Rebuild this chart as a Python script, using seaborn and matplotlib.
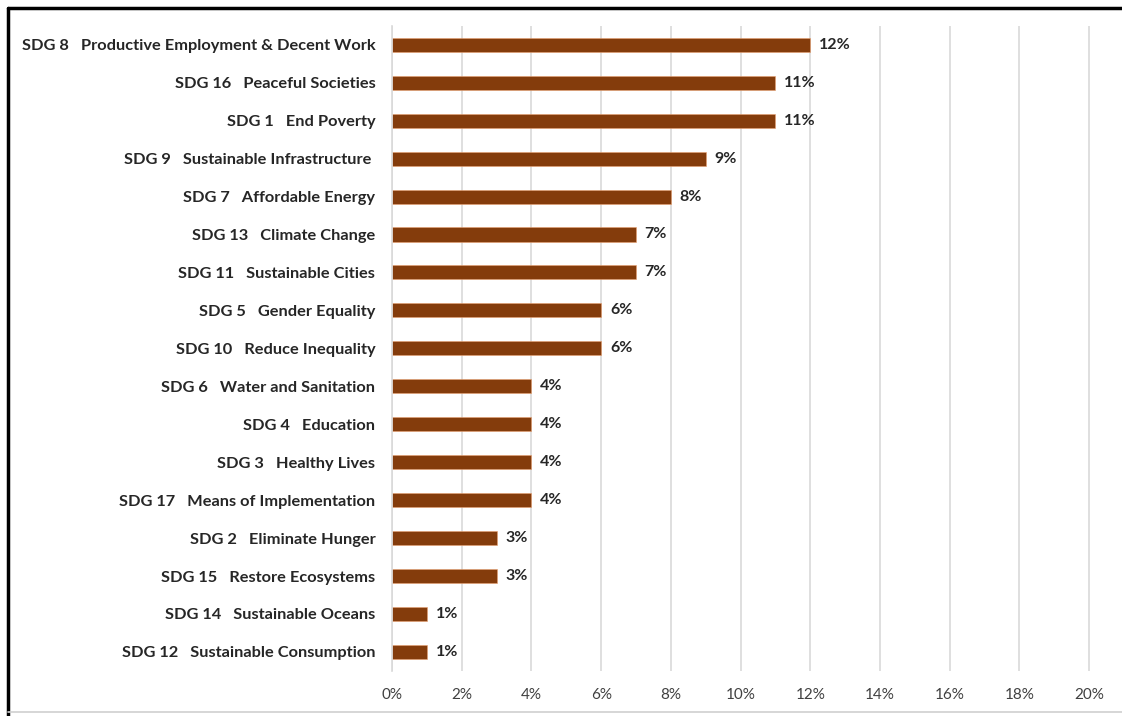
import pandas as pd
import matplotlib
matplotlib.use("Agg")
import matplotlib.pyplot as plt
from matplotlib.lines import Line2D
from matplotlib.ticker import FuncFormatter
import seaborn as sns

# Data (share of total, in %)
goals = [
    "SDG 8   Productive Employment & Decent Work",
    "SDG 16   Peaceful Societies",
    "SDG 1   End Poverty",
    "SDG 9   Sustainable Infrastructure ",
    "SDG 7   Affordable Energy",
    "SDG 13   Climate Change",
    "SDG 11   Sustainable Cities",
    "SDG 5   Gender Equality",
    "SDG 10   Reduce Inequality",
    "SDG 6   Water and Sanitation",
    "SDG 4   Education",
    "SDG 3   Healthy Lives",
    "SDG 17   Means of Implementation",
    "SDG 2   Eliminate Hunger",
    "SDG 15   Restore Ecosystems",
    "SDG 14   Sustainable Oceans",
    "SDG 12   Sustainable Consumption",
]
shares = [12, 11, 11, 9, 8, 7, 7, 6, 6, 4, 4, 4, 4, 3, 3, 1, 1]
x_ticks = [0, 2, 4, 6, 8, 10, 12, 14, 16, 18, 20]

df = pd.DataFrame({"goal": goals, "share": shares})

sns.set_style("white")
plt.rcParams["font.family"] = ["Lato", "DejaVu Sans"]

fig = plt.figure(figsize=(11.22, 7.16), dpi=100)
ax = fig.add_axes([0.3494, 0.063, 0.6229, 0.901])

sns.barplot(data=df, x="share", y="goal", color="#843C0C", width=0.37,
            edgecolor="#E8A070", linewidth=0.4, saturation=1, ax=ax, orient="h")

# value labels
for i, v in enumerate(shares):
    ax.text(v + 0.25, i, f"{v}%", va="center", ha="left",
            fontsize=11.5, fontweight="bold", color="#262626")

ax.set_xlim(0, 20.05)
ax.set_xticks(x_ticks)
ax.xaxis.set_major_formatter(FuncFormatter(lambda x, p: f"{x:.0f}%"))
ax.grid(axis="x", color="#D9D9D9", linewidth=1.2)
ax.set_axisbelow(True)
ax.set_xlabel("")
ax.set_ylabel("")
for s in ["top", "right", "bottom"]:
    ax.spines[s].set_visible(False)
ax.spines["left"].set_color("#D9D9D9")
ax.spines["left"].set_linewidth(1.2)
ax.tick_params(axis="both", length=0)
ax.tick_params(axis="x", labelsize=11, labelcolor="#404040", pad=12)
ax.tick_params(axis="y", pad=12)
for lab in ax.get_yticklabels():
    lab.set_fontweight("bold")
    lab.set_fontsize(11.8)
    lab.set_color("#262626")

# frame around the picture
fig.add_artist(Line2D([8 / 1122, 1], [1 - 8 / 716] * 2, transform=fig.transFigure,
                      color="black", linewidth=2.5))
fig.add_artist(Line2D([8 / 1122] * 2, [1 - 8 / 716, 0], transform=fig.transFigure,
                      color="black", linewidth=2.5))
fig.add_artist(Line2D([8 / 1122, 1], [4 / 716] * 2, transform=fig.transFigure,
                      color="#D0D0D0", linewidth=1.2))

fig.savefig("out.png", dpi=100)
